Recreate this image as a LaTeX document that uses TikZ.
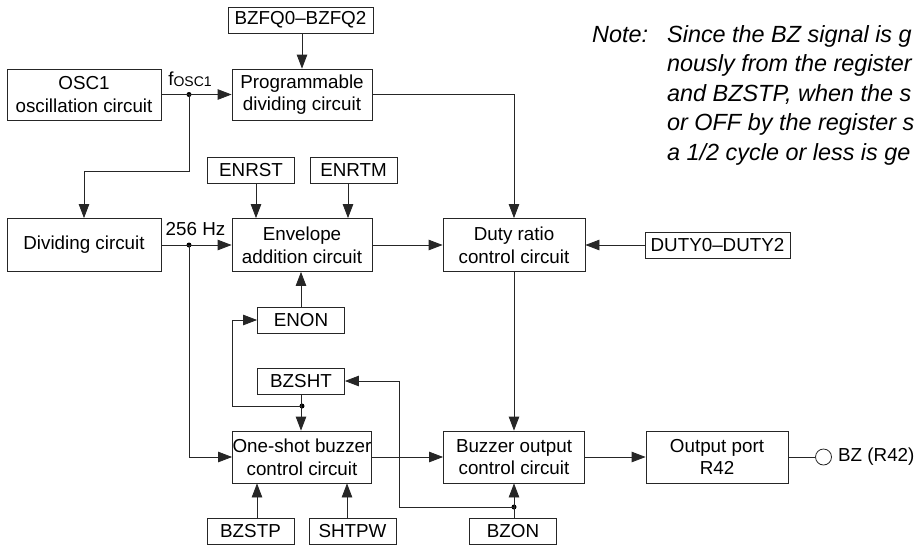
\documentclass[tikz,border=0pt]{standalone}
\usepackage{fontspec}
\setmainfont{Liberation Sans}
\usetikzlibrary{arrows.meta}
\begin{document}
\begin{tikzpicture}[x=1pt,y=-1pt,
  ln/.style={draw=black!85, line width=0.8pt},
  arr/.style={ln, -{Triangle[length=14pt,width=10.5pt]}},
  blk/.style={ln, inner sep=0pt, align=center, font=\fontsize{18.8}{22.7}\selectfont},
  big/.style={blk, minimum height=52pt},
  reg/.style={blk, minimum height=26pt, minimum width=87pt},
  lbl/.style={inner sep=0pt, font=\fontsize{18.8}{22.7}\selectfont},
  notef/.style={inner sep=0pt, anchor=base west, font=\fontsize{23.4}{29.5}\selectfont\itshape},
  dot/.style={circle, fill=black, inner sep=0pt, minimum size=5pt}]
\useasboundingbox (0,0) rectangle (916,547);

% main blocks
\node[big, minimum width=154pt, minimum height=51pt] (osc)  at (84,94.5)  {OSC1\\oscillation circuit};
\node[big, minimum width=140pt, minimum height=51pt] (prog) at (302,94.5) {Programmable\\dividing circuit};
\node[big, minimum width=154pt, minimum height=53pt] (div)  at (84,245)   {Dividing circuit};
\node[big, minimum width=140pt, minimum height=53pt] (env)  at (302,245)  {Envelope\\addition circuit};
\node[big, minimum width=142pt, minimum height=53pt] (duty) at (514,245)  {Duty ratio\\control circuit};
\node[big, minimum width=139pt] (one)  at (302,457) {One-shot buzzer\\control circuit};
\node[big, minimum width=141pt] (buzz) at (514,457) {Buzzer output\\control circuit};
\node[big, minimum width=142pt] (port) at (717,457) {Output port\\R42};

% register boxes
\node[reg, minimum width=145pt] (bzfq) at (300.5,20) {BZFQ0–BZFQ2};
\node[reg] (enrst) at (251,170)   {ENRST};
\node[reg] (enrtm) at (353.5,170) {ENRTM};
\node[reg, minimum width=145pt] (dutyin) at (717.5,245) {DUTY0–DUTY2};
\node[reg] (enon)  at (301,320)   {ENON};
\node[reg] (bzsht) at (301,381)   {BZSHT};
\node[reg] (bzstp) at (250.5,531) {BZSTP};
\node[reg] (shtpw) at (352.5,531) {SHTPW};
\node[reg] (bzon)  at (513,531)   {BZON};

% terminal
\node[circle, ln, inner sep=0pt, minimum size=16pt] (term) at (823.5,457) {};
\node[lbl, anchor=west] (bzlbl) at (838,457) {BZ (R42)};

% labels
\node[lbl] (fosc) at (190,79) {f\raisebox{-1pt}{\fontsize{14}{14}\selectfont OSC1}};
\node[lbl] (hz) at (195.5,229) {256 Hz};

% dots and corner points
\node[dot] (d1) at (189,94.5) {};
\node[dot] (d2) at (189,245) {};
\node[dot] (d3) at (302,406) {};
\node[dot] (d4) at (514,507) {};
\coordinate (c1) at (84,171);
\coordinate (c3) at (399,507);

% connectors
\draw[arr] (bzfq.south -| prog.north) -- (prog.north);
\draw[arr] (osc.east) -- (prog.west);
\draw[ln] (d1.center) |- (c1);
\draw[arr] (c1) -- (div.north);
\draw[arr] (prog.east) -| (duty.north);
\draw[arr] ([xshift=5pt]enrst.south) -- ([xshift=5pt]enrst.south |- env.north);
\draw[arr] ([xshift=-5.5pt]enrtm.south) -- ([xshift=-5.5pt]enrtm.south |- env.north);
\draw[arr] (div.east) -- (env.west);
\draw[arr] (d2.center) |- (one.west);
\draw[arr] (env.east) -- (duty.west);
\draw[arr] (dutyin.west) -- (duty.east);
\draw[arr] (enon.north) -- (enon.north |- env.south);
\draw[arr] (bzsht.south) -- (bzsht.south |- one.north);
\draw[arr] (d3.center) -- (one.west |- d3) |- (enon.west);
\draw[arr] (one.east) -- (buzz.west);
\draw[arr] (duty.south) -- (buzz.north);
\draw[arr] (bzon.north -| buzz.south) -- (buzz.south);
\draw[ln] (d4.center) -- (c3);
\draw[arr] (c3) |- (bzsht.east);
\draw[arr] ([xshift=6.5pt]bzstp.north) -- ([xshift=6.5pt]bzstp.north |- one.south);
\draw[arr] ([xshift=-5.5pt]shtpw.north) -- ([xshift=-5.5pt]shtpw.north |- one.south);
\draw[arr] (buzz.east) -- (port.west);
\draw[ln] (port.east) -- (term.west);

% note
\node[notef] (note0) at (592,42) {Note:};
\node[notef] (note1) at (667,42)    {Since the BZ signal is g};
\node[notef] (note2) at (667,71.5)  {nously from the register};
\node[notef] (note3) at (667,101)   {and BZSTP, when the s};
\node[notef] (note4) at (667,130.5) {or OFF by the register s};
\node[notef] (note5) at (667,160)   {a 1/2 cycle or less is ge};
\end{tikzpicture}
\end{document}
